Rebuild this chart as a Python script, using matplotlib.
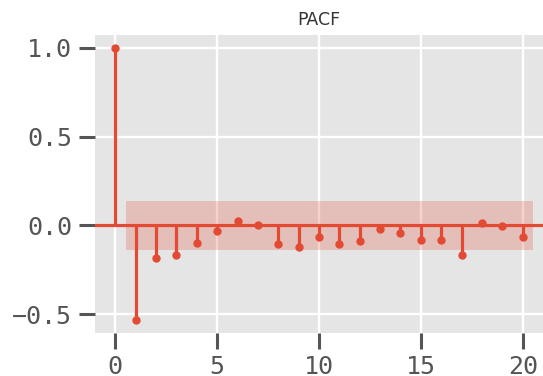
import matplotlib
matplotlib.use('Agg')
import matplotlib.pyplot as plt
import numpy as np

plt.style.use('ggplot')

# --- data ---
lags = list(range(21))
pacf_vals = [1.0, -0.533, -0.183, -0.164, -0.096, -0.032, 0.023, 0.002,
             -0.104, -0.121, -0.066, -0.104, -0.089, -0.019, -0.041,
             -0.081, -0.081, -0.166, 0.013, -0.002, -0.064]
conf_half = 0.14

RED = '#E24A33'
TICK_GREY = '#555555'

fig = plt.figure(figsize=(5.43, 3.76), dpi=100)
ax = fig.add_axes([95 / 543, 43 / 376, 1 - 95 / 543, (333 - 35) / 376])
ax.set_facecolor('#E5E5E5')

lags_arr = np.array(lags, dtype=float)
vals = np.array(pacf_vals)

# confidence band (statsmodels style: skip lag 0, widen ends by 0.5)
band_x = lags_arr[1:].copy()
band_x[0] -= 0.5
band_x[-1] += 0.5
ax.fill_between(band_x, -conf_half, conf_half, color=RED, alpha=0.25, lw=0)

ax.axhline(0, color=RED, lw=2.3, zorder=3)
ax.vlines(lags_arr, 0, vals, color=RED, lw=2.3, zorder=3)
ax.plot(lags_arr, vals, 'o', color=RED, ms=5, zorder=4)

ax.set_xlim(-1, 21)
ax.set_ylim(-0.605, 1.072)
ax.set_xticks([0, 5, 10, 15, 20])
ax.set_yticks([-0.5, 0.0, 0.5, 1.0])

ax.grid(True, color='white', lw=1.7)
ax.set_axisbelow(True)
for s in ax.spines.values():
    s.set_visible(False)

ax.tick_params(axis='both', direction='out', length=11.5, width=2.2,
               colors=TICK_GREY, labelsize=18, pad=4)
ax.tick_params(axis='y', pad=5)
for lbl in ax.get_xticklabels() + ax.get_yticklabels():
    lbl.set_family(['DejaVu Sans Mono'])
    lbl.set_color(TICK_GREY)

ax.set_title('PACF', fontsize=12.5, color='#333333', pad=7,
             family=['Liberation Sans Narrow', 'DejaVu Sans'])

fig.savefig('out.png', dpi=100, facecolor='white')
